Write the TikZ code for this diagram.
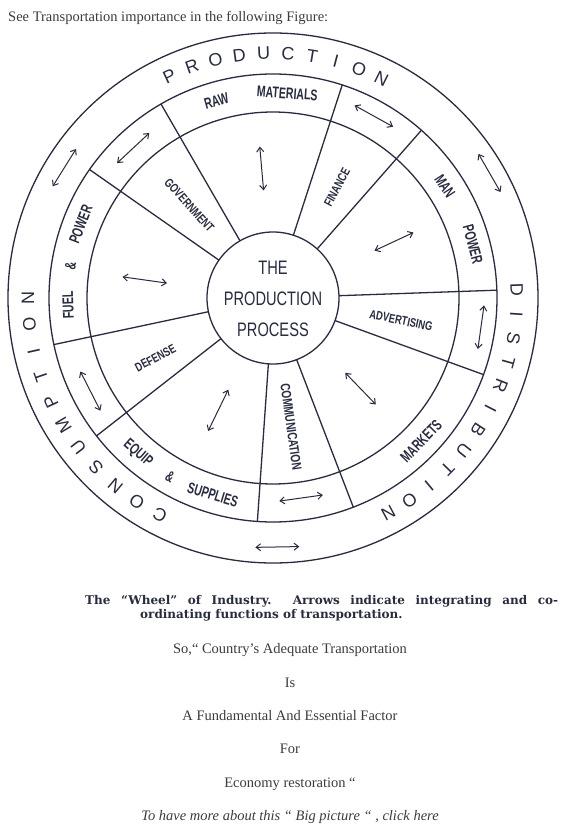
\documentclass[tikz,border=0pt]{standalone}
\usepackage{fontspec}
\setmainfont{Liberation Serif}
\newfontfamily\wsans{Liberation Sans}
\newfontfamily\wcond[FakeStretch=0.75]{Liberation Sans}
\newfontfamily\wnarrow[FakeStretch=0.68]{Liberation Sans}
\newfontfamily\wcap{DejaVu Serif}
\usetikzlibrary{arrows.meta,calc}
\definecolor{ink}{RGB}{40,44,62}
\definecolor{txt}{RGB}{60,60,60}
\begin{document}
\begin{tikzpicture}[x=1pt,y=1pt,
  wline/.style={draw=ink, line width=1.3pt},
  warrow/.style={draw=ink, line width=1pt, {Straight Barb[length=4.5pt,width=7pt]}-{Straight Barb[length=4.5pt,width=7pt]}},
  ringlet/.style={font=\wsans\fontsize{18}{18}\selectfont, text=ink, inner sep=0pt},
  midlab/.style={font=\wnarrow\bfseries\fontsize{15.5}{15.5}\selectfont, text=ink, inner sep=0pt},
  innlab/.style={font=\wcond\bfseries\fontsize{12.5}{13}\selectfont, text=ink, inner sep=0pt},
  body/.style={font=\fontsize{14.5}{17}\selectfont, text=txt, inner sep=0pt},
  captxt/.style={font=\wcap\bfseries\fontsize{12}{14}\selectfont, text=ink, inner sep=0pt, anchor=base west},
]
\useasboundingbox[fill=white] (0,0) rectangle (563,-829);

\node[body, anchor=base west] (intro) at (8,-22) {See Transportation importance in the following Figure:};

\begin{scope}[shift={(273,-298)}]
  \draw[wline] (0,0) circle (265);
  \draw[wline] (0,0) circle (224);
  \draw[wline] (0,0) circle (186);
  \node[wline, circle, minimum size=132pt, inner sep=0pt, outer sep=0pt] (core) at (0,0) {};
  \node[font=\wcond\fontsize{19.5}{31}\selectfont, text=ink, align=center, inner sep=0pt] (ctext) at (0,-1) {THE\\PRODUCTION\\PROCESS};

  % spokes
  \foreach \a in {120,72,48.5,2,-20,-69,-94,-142,-168,145}
    \draw[wline] (core.\a) -- (\a:224);

  % outer ring words
  \foreach \ch [count=\i from 0] in {P,R,O,D,U,C,T,I,O,N}
    \node[ringlet, rotate={115-5.7*\i-90}] (prod\i) at ({115-5.7*\i}:245) {\ch};
  \foreach \ch [count=\i from 0] in {D,I,S,T,R,I,B,U,T,I,O,N}
    \node[ringlet, rotate={2-5.8*\i-90}] (dist\i) at ({2-5.8*\i}:244) {\ch};
  \foreach \ch [count=\i from 0] in {C,O,N,S,U,M,P,T,I,O,N}
    \node[ringlet, rotate={242.5-6.25*\i-90}] (cons\i) at ({242.5-6.25*\i}:245) {\ch};

  % middle ring labels
  \node[midlab, rotate=16] (raw) at (106:205) {RAW};
  \node[midlab, rotate=-4] (materials) at (86:205) {MATERIALS};
  \node[midlab, rotate=-57] (man) at (33:205) {MAN};
  \node[midlab, rotate=-75] (mpower) at (15:207) {POWER};
  \node[midlab, rotate=46] (markets) at (-44:206) {MARKETS};
  \node[midlab, rotate=-41] (equip) at (-131:206) {EQUIP};
  \node[midlab, rotate=-30] (amp1) at (-120:206) {\&};
  \node[midlab, rotate=-17] (supplies) at (-107:206) {SUPPLIES};
  \node[midlab, rotate=92] (fuel) at (182:205) {FUEL};
  \node[midlab, rotate=81] (amp2) at (171:205) {\&};
  \node[midlab, rotate=69] (fpower) at (159:206) {POWER};

  % inner labels
  \node[innlab, rotate=-48] (gov) at (132:125) {GOVERNMENT};
  \node[innlab, rotate=62] (fin) at (60:128) {FINANCE};
  \node[innlab, rotate=-12] (adv) at (-10:130) {ADVERTISING};
  \node[innlab, rotate=-82, font=\wcond\bfseries\fontsize{13.5}{14}\selectfont] (comm) at (-82:130) {COMMUNICATION};
  \node[innlab, rotate=28] (def) at (207:132) {DEFENSE};

  % inner radial arrows
  \draw[warrow] (95:108) -- (95:152);
  \draw[warrow] (25:112) -- (25:155);
  \draw[warrow] (-46:104) -- (-46:148);
  \draw[warrow] (-116:102) -- (-116:148);
  \draw[warrow] (172:107) -- (172:152);

  % middle ring tangent arrows
  \draw[warrow] ($(61:208)+(151:22)$) -- ($(61:208)+(-29:22)$);
  \draw[warrow] ($(-8:210)+(82:22)$) -- ($(-8:210)+(-98:22)$);
  \draw[warrow] ($(-82:202)+(188:22)$) -- ($(-82:202)+(8:22)$);
  \draw[warrow] ($(207:205)+(297:22)$) -- ($(207:205)+(117:22)$);
  \draw[warrow] ($(133:205)+(223:22)$) -- ($(133:205)+(43:22)$);

  % outer ring tangent arrows
  \draw[warrow] ($(148:246)+(238:22)$) -- ($(148:246)+(58:22)$);
  \draw[warrow] ($(30:250)+(120:22)$) -- ($(30:250)+(-60:22)$);
  \draw[warrow] ($(-89:249)+(181:22)$) -- ($(-89:249)+(1:22)$);
\end{scope}

\node[captxt] (cap1) at (85,-604) {\hbox to 473pt{The “Wheel” of Industry.\ \ Arrows indicate integrating and co-}};
\node[captxt] (cap2) at (140,-618) {ordinating functions of transportation.};

\node[body, anchor=base] (l1) at (290,-653) {So,“ Country’s Adequate Transportation};
\node[body, anchor=base] (l2) at (290,-687) {Is};
\node[body, anchor=base] (l3) at (290,-720) {A Fundamental And Essential Factor};
\node[body, anchor=base] (l4) at (290,-753) {For};
\node[body, anchor=base] (l5) at (290,-787) {Economy restoration “};
\node[body, anchor=base, font=\itshape\fontsize{14.5}{17}\selectfont] (l6) at (290,-820) {To have more about this “ Big picture “ , click here};
\end{tikzpicture}
\end{document}
